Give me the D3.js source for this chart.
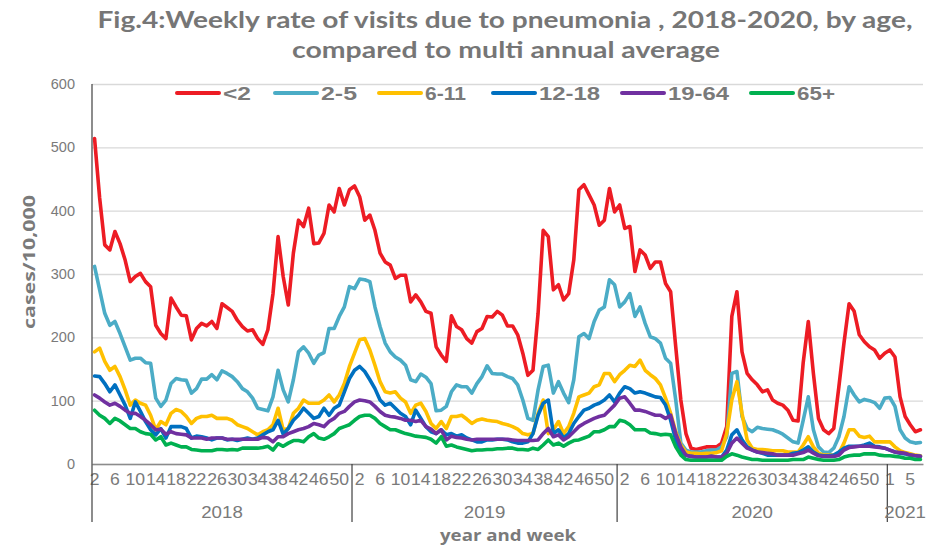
<!DOCTYPE html>
<html>
<head>
<meta charset="utf-8">
<script src="https://cdn.jsdelivr.net/npm/d3@7"></script>
<style>
  body { margin: 0; background: #fff; }
  svg { display: block; }
</style>
</head>
<body>
<div id="chart"></div>
<script>
// category layout: year + week range shown on the axis
const years = ["2018", "2019", "2020", "2021"];
const yearWeeks = [[2, 52], [1, 52], [1, 53], [1, 7]];

const ageGroups = ["<2", "2-5", "6-11", "12-18", "19-64", "65+"];
const colors = ["#ed1c24", "#4bacc6", "#ffc000", "#0070c0", "#7030a0", "#00b050"];
const yTicks = [0, 100, 200, 300, 400, 500, 600];

// weekly rate per 10,000
const lt2 = [
  514, 420, 346, 338, 367, 348, 322, 288, 296, 301,
  288, 280, 219, 206, 198, 262, 248, 235, 234, 196,
  214, 222, 218, 225, 214, 253, 247, 241, 227, 217,
  210, 212, 198, 189, 212, 269, 359, 296, 251, 333,
  385, 375, 404, 348, 349, 364, 409, 398, 435, 409,
  433, 439, 422, 385, 393, 369, 333, 319, 314, 293,
  298, 298, 256, 267, 256, 241, 238, 185, 172, 162,
  234, 217, 212, 198, 191, 209, 214, 233, 232, 241,
  235, 218, 218, 204, 175, 140, 148, 238, 369, 359,
  275, 283, 259, 269, 322, 433, 441, 425, 409, 377,
  385, 435, 398, 409, 372, 375, 304, 338, 330, 309,
  319, 319, 285, 272, 185, 101, 48, 25, 23, 25,
  27, 27, 27, 33, 59, 233, 272, 177, 143, 133,
  125, 114, 117, 101, 96, 93, 85, 69, 68, 160,
  225, 143, 72, 54, 48, 56, 122, 191, 253, 241,
  204, 193, 185, 180, 167, 175, 180, 169, 106, 75,
  62, 51, 54
];
const age2to5 = [
  312, 275, 238, 219, 225, 206, 185, 164, 167, 167,
  160, 159, 104, 91, 101, 127, 135, 133, 132, 112,
  119, 134, 134, 141, 133, 147, 143, 138, 130, 119,
  114, 104, 88, 86, 84, 106, 148, 117, 98, 133,
  177, 185, 175, 159, 172, 176, 214, 214, 233, 248,
  280, 277, 292, 291, 288, 248, 217, 191, 177, 169,
  164, 156, 133, 130, 142, 137, 127, 84, 85, 91,
  114, 125, 122, 122, 112, 127, 138, 155, 143, 142,
  142, 138, 135, 125, 101, 72, 69, 117, 154, 156,
  112, 130, 112, 97, 133, 201, 206, 198, 225, 243,
  248, 291, 283, 248, 256, 269, 233, 248, 222, 201,
  198, 191, 167, 159, 101, 33, 22, 19, 19, 19,
  21, 22, 22, 27, 43, 143, 146, 75, 56, 51,
  58, 56, 55, 54, 51, 47, 41, 35, 33, 69,
  106, 54, 27, 19, 18, 25, 43, 75, 122, 109,
  98, 102, 100, 97, 88, 104, 105, 91, 54, 41,
  35, 33, 34
];
const age6to11 = [
  177, 183, 162, 148, 154, 138, 117, 93, 101, 96,
  93, 77, 54, 67, 62, 80, 86, 83, 75, 64,
  72, 75, 75, 77, 72, 72, 72, 69, 62, 59,
  56, 51, 46, 51, 54, 62, 88, 54, 56, 80,
  88, 101, 96, 96, 96, 101, 109, 98, 109, 127,
  154, 175, 196, 198, 180, 156, 130, 114, 112, 114,
  104, 98, 80, 93, 96, 83, 64, 56, 67, 56,
  75, 75, 77, 71, 64, 69, 71, 69, 68, 67,
  64, 62, 59, 55, 48, 46, 48, 80, 101, 48,
  54, 67, 48, 59, 80, 106, 109, 112, 122, 125,
  143, 143, 130, 141, 148, 156, 154, 164, 148, 141,
  135, 125, 104, 80, 51, 30, 19, 17, 17, 16,
  17, 17, 18, 21, 48, 101, 130, 80, 38, 25,
  23, 23, 22, 21, 21, 21, 19, 19, 19, 30,
  43, 27, 17, 14, 14, 14, 17, 33, 54, 54,
  44, 42, 44, 35, 35, 35, 35, 27, 21, 18,
  16, 14, 13
];
const age12to18 = [
  139, 138, 127, 114, 125, 109, 93, 72, 98, 83,
  67, 54, 46, 56, 41, 59, 59, 59, 56, 41,
  44, 43, 41, 38, 41, 41, 38, 39, 37, 39,
  41, 39, 41, 46, 51, 54, 69, 47, 56, 69,
  77, 88, 80, 72, 75, 88, 77, 88, 93, 114,
  135, 148, 154, 146, 133, 119, 101, 93, 96, 88,
  80, 75, 62, 85, 72, 59, 51, 48, 54, 46,
  48, 44, 46, 41, 38, 35, 35, 38, 38, 39,
  39, 38, 35, 33, 33, 35, 48, 77, 96, 101,
  48, 54, 41, 48, 64, 75, 85, 88, 93, 96,
  101, 109, 98, 112, 122, 119, 112, 114, 112, 109,
  106, 105, 93, 69, 38, 19, 14, 12, 11, 11,
  11, 12, 11, 11, 22, 46, 54, 38, 27, 22,
  19, 17, 14, 14, 14, 14, 14, 17, 18, 22,
  27, 19, 14, 13, 13, 14, 19, 25, 28, 28,
  28, 30, 33, 28, 27, 25, 22, 19, 17, 16,
  14, 13, 12
];
const age19to64 = [
  109, 104, 98, 93, 96, 91, 85, 80, 80, 75,
  69, 62, 54, 55, 47, 51, 48, 47, 46, 41,
  41, 41, 39, 41, 41, 41, 39, 39, 39, 39,
  39, 39, 39, 42, 41, 35, 43, 43, 48, 51,
  54, 56, 59, 64, 62, 59, 67, 72, 80, 83,
  91, 98, 101, 100, 98, 91, 83, 77, 75, 74,
  72, 69, 69, 67, 69, 59, 55, 48, 54, 38,
  44, 42, 41, 39, 38, 39, 39, 39, 39, 39,
  39, 39, 38, 37, 37, 37, 37, 38, 48, 56,
  43, 46, 38, 43, 51, 59, 64, 68, 72, 75,
  77, 85, 93, 104, 106, 96, 85, 85, 83, 80,
  77, 77, 72, 77, 48, 27, 14, 12, 11, 11,
  11, 12, 11, 11, 17, 33, 41, 33, 25, 22,
  19, 18, 17, 16, 14, 14, 14, 14, 16, 18,
  22, 17, 13, 12, 12, 12, 14, 22, 26, 27,
  28, 28, 28, 27, 26, 25, 22, 19, 18, 17,
  14, 13, 12
];
const age65plus = [
  85, 77, 72, 64, 72, 68, 62, 56, 56, 51,
  48, 47, 38, 43, 30, 33, 30, 27, 27, 23,
  22, 21, 21, 21, 23, 23, 22, 23, 22, 25,
  25, 25, 25, 26, 28, 22, 32, 28, 33, 37,
  37, 35, 43, 48, 41, 39, 43, 48, 56, 59,
  62, 69, 75, 77, 77, 72, 64, 59, 54, 54,
  51, 48, 46, 44, 43, 42, 39, 33, 43, 28,
  30, 27, 25, 23, 21, 22, 22, 23, 23, 24,
  24, 25, 25, 23, 23, 22, 25, 23, 30, 38,
  30, 33, 28, 33, 37, 38, 41, 44, 51, 51,
  54, 59, 59, 69, 67, 62, 54, 54, 54, 49,
  48, 46, 47, 46, 27, 14, 7, 6, 6, 6,
  6, 6, 6, 6, 12, 16, 14, 11, 9, 7,
  7, 6, 6, 6, 6, 6, 6, 7, 7, 7,
  11, 9, 7, 6, 6, 6, 7, 11, 13, 14,
  14, 16, 16, 16, 14, 13, 13, 12, 11, 9,
  9, 7, 7
];
const seriesValues = [lt2, age2to5, age6to11, age12to18, age19to64, age65plus];

// build the category list
let categories = [];
years.forEach((yr, k) => {
  for (let w = yearWeeks[k][0]; w <= yearWeeks[k][1]; w++) {
    categories.push({year: yr, week: w, i: categories.length});
  }
});

const W = 928, H = 545;
let margin = {top: 84, right: 5, bottom: 81, left: 92};
let width = W - margin.left - margin.right;
let height = H - margin.top - margin.bottom;

const svg = d3.select("#chart").append("svg")
  .attr("width", W)
  .attr("height", H);

const textGray = "#7a7a7a";

// Title
svg.append("text")
  .attr("x", 505).attr("y", 28)
  .attr("text-anchor", "middle")
  .attr("font-family", "Lato, 'Open Sans', sans-serif")
  .attr("font-weight", "bold")
  .attr("font-size", "22px")
  .attr("fill", "#767676")
  .attr("textLength", 815)
  .attr("lengthAdjust", "spacingAndGlyphs")
  .text("Fig.4:Weekly rate of visits due to pneumonia , 2018-2020, by age,");
svg.append("text")
  .attr("x", 506).attr("y", 58)
  .attr("text-anchor", "middle")
  .attr("font-family", "Lato, 'Open Sans', sans-serif")
  .attr("font-weight", "bold")
  .attr("font-size", "22px")
  .attr("fill", "#767676")
  .attr("textLength", 428)
  .attr("lengthAdjust", "spacingAndGlyphs")
  .text("compared to multi annual average");

let g = svg.append("g")
  .attr("transform", `translate(${margin.left}, ${margin.top})`);

let x = d3.scaleBand()
  .domain(categories.map(d => d.i))
  .range([0, width]);

let y = d3.scaleLinear()
  .domain([0, 600])
  .range([height, 0]);

// gridlines
g.append("g")
  .attr("class", "grid")
  .call(d3.axisLeft(y).tickValues(yTicks).tickSize(-width).tickFormat(""))
  .call(s => s.select(".domain").remove())
  .selectAll("line")
  .attr("stroke", "#d9d9d9")
  .attr("stroke-width", 1.3);

// y axis labels
let yAxis = g.append("g")
  .call(d3.axisLeft(y).tickValues(yTicks).tickSize(0).tickPadding(17))
  .call(s => s.select(".domain").remove());
yAxis.selectAll("text")
  .attr("font-family", "'Liberation Sans', Arial, sans-serif")
  .attr("font-size", "14.5px")
  .attr("fill", textGray);

// y axis line
g.append("line")
  .attr("x1", 0).attr("x2", 0)
  .attr("y1", 0).attr("y2", height)
  .attr("stroke", "#404040")
  .attr("stroke-width", 1.2);

// x axis with week labels every 4th category
let xAxis = g.append("g")
  .attr("transform", `translate(0, ${height})`)
  .call(d3.axisBottom(x)
    .tickValues(categories.filter(d => d.i % 4 == 0).map(d => d.i))
    .tickFormat(i => categories[i].week)
    .tickSize(0)
    .tickPadding(10));
xAxis.select(".domain")
  .attr("stroke", "#8c8c8c")
  .attr("stroke-width", 1.3);
xAxis.selectAll("text")
  .attr("font-family", "'Liberation Sans', Arial, sans-serif")
  .attr("font-size", "16px")
  .attr("transform", "scale(1.1, 1)")
  .attr("fill", textGray);

// year group separators and labels
let bounds = [];
years.forEach(yr => {
  let idx = categories.filter(d => d.year == yr).map(d => d.i);
  bounds.push({year: yr, start: x(idx[0]), end: x(idx[idx.length - 1]) + x.bandwidth()});
});

g.selectAll(".yearsep")
  .data(bounds)
  .enter()
  .append("line")
  .attr("class", "yearsep")
  .attr("x1", d => d.start).attr("x2", d => d.start)
  .attr("y1", height).attr("y2", height + 58)
  .attr("stroke", "#404040")
  .attr("stroke-width", 1.2);

g.selectAll(".yearlabel")
  .data(bounds)
  .enter()
  .append("text")
  .attr("class", "yearlabel")
  .attr("transform", d => `translate(${(d.start + d.end) / 2}, ${height + 54}) scale(1.1, 1)`)
  .attr("text-anchor", "middle")
  .attr("font-family", "'Liberation Sans', Arial, sans-serif")
  .attr("font-size", "17px")
  .attr("fill", textGray)
  .text(d => d.year);

// axis titles
svg.append("text")
  .attr("x", 508).attr("y", 541)
  .attr("text-anchor", "middle")
  .attr("font-family", "'Open Sans', sans-serif")
  .attr("font-weight", "bold")
  .attr("font-size", "16px")
  .attr("fill", textGray)
  .attr("textLength", 136)
  .attr("lengthAdjust", "spacingAndGlyphs")
  .text("year and week");

svg.append("text")
  .attr("transform", "translate(35, 262) rotate(-90)")
  .attr("text-anchor", "middle")
  .attr("font-family", "'Open Sans', sans-serif")
  .attr("font-weight", "bold")
  .attr("font-size", "16px")
  .attr("fill", textGray)
  .attr("textLength", 134)
  .attr("lengthAdjust", "spacingAndGlyphs")
  .text("cases/10,000");

// series lines
let line = d3.line()
  .x((d, i) => x(i) + x.bandwidth() / 2)
  .y(d => y(d));

g.selectAll(".series")
  .data(seriesValues)
  .enter()
  .append("path")
  .attr("class", "series")
  .attr("d", d => line(d))
  .attr("fill", "none")
  .attr("stroke", (d, k) => colors[k])
  .attr("stroke-width", 3.6)
  .attr("stroke-linejoin", "round")
  .attr("stroke-linecap", "round");

// legend (swatch start and label width per entry)
const legendX = [177, 275, 379, 493, 622, 751];
const legendTextW = [28, 36, 41, 61, 61, 38];
let legend = svg.append("g");
ageGroups.forEach((name, k) => {
  legend.append("line")
    .attr("x1", legendX[k]).attr("x2", legendX[k] + 42)
    .attr("y1", 93).attr("y2", 93)
    .attr("stroke", colors[k])
    .attr("stroke-width", 4)
    .attr("stroke-linecap", "round");
  legend.append("text")
    .attr("x", legendX[k] + 46)
    .attr("y", 100)
    .attr("font-family", "'Liberation Sans', Arial, sans-serif")
    .attr("font-weight", "bold")
    .attr("font-size", "19px")
    .attr("fill", textGray)
    .attr("textLength", legendTextW[k])
    .attr("lengthAdjust", "spacingAndGlyphs")
    .text(name);
});
</script>
</body>
</html>
